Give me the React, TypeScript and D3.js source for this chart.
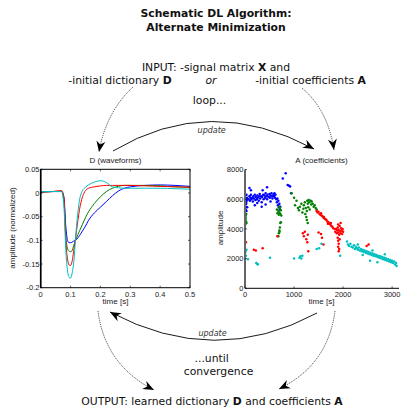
import * as d3 from 'd3';

// waveforms (D): time samples [s] and one amplitude list per atom
const wfTime = [0, 0.04, 0.07, 0.078, 0.084, 0.09, 0.095, 0.1, 0.105, 0.11, 0.12, 0.13, 0.14, 0.15, 0.16, 0.18, 0.2, 0.22, 0.24, 0.26, 0.28, 0.3, 0.35, 0.4, 0.45, 0.5];
const wfBlue = [0.002, 0.003, 0.003, -0.01, -0.07, -0.1, -0.105, -0.105, -0.104, -0.102, -0.098, -0.09, -0.08, -0.07, -0.058, -0.042, -0.03, -0.018, -0.006, 0.004, 0.01, 0.013, 0.016, 0.017, 0.016, 0.014];
const wfGreen = [0.002, 0.003, 0.004, -0.02, -0.09, -0.118, -0.123, -0.124, -0.122, -0.112, -0.095, -0.08, -0.066, -0.052, -0.04, -0.022, -0.008, 0.003, 0.01, 0.014, 0.016, 0.016, 0.016, 0.015, 0.013, 0.012];
const wfRed = [0.002, 0.003, 0.005, -0.01, -0.1, -0.14, -0.152, -0.153, -0.145, -0.125, -0.08, -0.035, -0.008, 0.005, 0.01, 0.013, 0.015, 0.016, 0.016, 0.016, 0.016, 0.016, 0.015, 0.014, 0.013, 0.012];
const wfCyan = [0.003, 0.003, 0.003, -0.03, -0.12, -0.165, -0.178, -0.18, -0.17, -0.15, -0.07, -0.015, 0.005, 0.012, 0.017, 0.023, 0.026, 0.022, 0.013, 0.011, 0.01, 0.01, 0.01, 0.01, 0.009, 0.008];

// coefficients (A): [time s, amplitude]
const coefBlue = [
  [10, 5000], [15, 5300], [20, 5500], [25, 5700], [30, 5200], [35, 5900], [40, 6100], [20, 5800], [45, 5450], [50, 6000], [30, 6300],
  [70, 6000], [90, 6200], [100, 5900], [110, 6100], [120, 6300], [130, 6000], [150, 6100], [160, 5850], [170, 6200], [180, 6050],
  [200, 6300], [210, 5950], [220, 6150], [240, 6000], [250, 6250], [260, 6100], [280, 5900], [290, 6200], [300, 6350], [310, 6050],
  [330, 6200], [340, 5800], [350, 6150], [370, 6300], [380, 6000], [400, 6250], [410, 6100], [420, 6400], [440, 6200], [450, 6000],
  [460, 6300], [480, 6150], [500, 6350], [510, 6100], [520, 6250], [540, 6400], [550, 6200], [560, 6050], [580, 6300], [590, 6200],
  [600, 6400], [610, 6100], [620, 6300], [640, 6000],
  [90, 6750], [120, 6600], [450, 6800], [360, 6600], [200, 5600], [250, 5750], [340, 5500], [420, 5650], [520, 5850],
  [650, 5800], [660, 6050], [670, 5600], [680, 5900], [690, 5450], [700, 5700], [710, 5300], [720, 5500],
  [770, 7400], [830, 7750], [870, 6950], [900, 6900], [920, 6850], [940, 6400],
];
const coefGreen = [
  [5, 4300], [10, 4600], [15, 4900], [20, 4500], [25, 5000], [15, 4750], [30, 4400],
  [650, 5300], [660, 5050], [680, 5200], [690, 4950], [700, 5100], [710, 5400], [720, 5000], [730, 5250], [740, 4900], [700, 5500],
  [720, 4400], [710, 4100], [700, 3900], [690, 3700], [680, 3500], [705, 3800], [730, 4450],
  [950, 6400], [1000, 6100], [1020, 5600], [1050, 5900], [1080, 5400], [1100, 5250], [1120, 5500], [1150, 5700], [1170, 5100],
  [1190, 5350], [1200, 5600], [1220, 5800], [1240, 5400], [1260, 5200], [1270, 5900], [1280, 5700], [1290, 5450], [1300, 5950],
  [1310, 5800], [1320, 5300], [1340, 5900], [1350, 5650], [1360, 5850], [1380, 5700], [1400, 5500], [1420, 5600], [1440, 5400],
  [1460, 5300], [1230, 5000], [1250, 4800], [1260, 4600], [1280, 4400],
];
const coefRed = [
  [1460, 5200], [1480, 5100], [1500, 5150], [1520, 5000], [1540, 4950], [1560, 4900], [1580, 4850], [1600, 4750], [1620, 4700],
  [1640, 4650], [1660, 4600], [1680, 4500], [1700, 4450], [1720, 4350], [1740, 4300], [1760, 4200], [1780, 4150], [1800, 4050],
  [1830, 4000], [1550, 5050], [1610, 4800], [1690, 4350], [1750, 4400],
  [1840, 3800], [1860, 4000], [1870, 3700], [1880, 3900], [1890, 4100], [1900, 3750], [1910, 3950], [1920, 3600], [1930, 4200],
  [1940, 3850], [1950, 3700], [1960, 4050], [1970, 3900], [1980, 3650], [1990, 4000], [2000, 3800], [1900, 4300], [1950, 4400],
  [1890, 3400], [1900, 3200], [1910, 3000], [1900, 2800], [1920, 2650], [1910, 2500], [1930, 3300],
  [1180, 3700], [1200, 3500], [1220, 3800], [1250, 3300], [1270, 3100], [1280, 3600], [1290, 2500], [1500, 3750], [1550, 3650],
  [1570, 3400], [1600, 2950],
  [20, 3100], [180, 2600], [220, 2550], [360, 2700], [660, 3500], [2480, 2850], [2520, 2950],
];
const coefCyan = [
  [10, 2450], [20, 2200], [30, 2600], [60, 1950], [230, 1700], [260, 1600], [250, 1650], [510, 2050], [1000, 2000], [1110, 2050],
  [1130, 2150], [1150, 2000], [1170, 2200], [1460, 2650], [1510, 2700], [1560, 3000], [1940, 2200],
  [2080, 3150], [2100, 2950], [2120, 2850], [2150, 3000], [2170, 2800], [2200, 2750], [2220, 2900], [2240, 2650], [2260, 2800],
  [2280, 2700], [2300, 2600], [2320, 2750], [2340, 2550], [2360, 2650], [2380, 2500], [2400, 2600], [2420, 2450], [2440, 2550],
  [2460, 2400], [2480, 2500], [2500, 2350], [2520, 2450], [2540, 2300], [2560, 2400], [2580, 2250], [2600, 2350], [2620, 2200],
  [2640, 2300], [2660, 2150], [2680, 2250], [2700, 2100], [2720, 2200], [2740, 2050], [2760, 2150], [2780, 2000], [2800, 2100],
  [2820, 1950], [2840, 2050], [2860, 1900], [2880, 2000], [2900, 1850], [2920, 1950], [2940, 1800], [2960, 1900], [2980, 1750],
  [3000, 1850], [3020, 1700], [3040, 1800], [3060, 1600], [3080, 1700], [3090, 1500], [2700, 1750], [2550, 1850], [2400, 2250],
  [2600, 2550], [2850, 2300], [2300, 2950],
];

const dTicksX = [0, 0.1, 0.2, 0.3, 0.4, 0.5];
const dTicksY = [0.05, 0, -0.05, -0.1, -0.15, -0.2];
const aTicksX = [0, 1000, 2000, 3000];
const aTicksY = [0, 2000, 4000, 6000, 8000];

const BLUE = '#0000ff';
const GREEN = '#008000';
const RED = '#ff0000';
const CYAN = '#00bfbf';

const TEXT = 'DejaVu Sans, sans-serif';
const AX = 'Liberation Sans, Arial, sans-serif';

function Arrow({ p0, c, p1, dotted }) {
  const path = d3.path();
  path.moveTo(p0[0], p0[1]);
  path.quadraticCurveTo(c[0], c[1], p1[0], p1[1]);
  const ang = (Math.atan2(p1[1] - c[1], p1[0] - c[0]) * 180) / Math.PI;
  return (
    <g>
      <path
        d={path.toString()}
        fill="none"
        stroke="#000"
        strokeWidth={dotted ? 0.7 : 0.9}
        strokeDasharray={dotted ? '1.2 1' : undefined}
      />
      <path
        d="M0,0 L-11,-4.5 L-7.5,0 L-11,4.5 Z"
        fill="#000"
        transform={`translate(${p1[0]},${p1[1]}) rotate(${ang})`}
      />
    </g>
  );
}

function DPlot() {
  const x = d3.scaleLinear().domain([0, 0.5]).range([40.7, 190]);
  const y = d3.scaleLinear().domain([-0.2, 0.05]).range([287.7, 169.3]);
  const line = d3
    .line<number>()
    .x((_, i) => x(wfTime[i]))
    .y((v) => y(v))
    .curve(d3.curveMonotoneX);
  const series = [
    { color: BLUE, values: wfBlue },
    { color: GREEN, values: wfGreen },
    { color: RED, values: wfRed },
    { color: CYAN, values: wfCyan },
  ];
  const [x0, x1] = x.range();
  const [y0, y1] = y.range();
  return (
    <g>
      {series.map((s) => (
        <path key={s.color} d={line(s.values)} fill="none" stroke={s.color} strokeWidth={1} />
      ))}
      <rect x={x0} y={y1} width={x1 - x0} height={y0 - y1} fill="none" stroke="#000" strokeWidth={1} />
      <line x1={x0} x2={x0} y1={y1} y2={y0} stroke="#000" strokeWidth={1.6} />
      {dTicksX.map((t) => (
        <g key={t}>
          <line x1={x(t)} x2={x(t)} y1={y0} y2={y0 - 2} stroke="#000" strokeWidth={0.6} />
          <line x1={x(t)} x2={x(t)} y1={y1} y2={y1 + 2} stroke="#000" strokeWidth={0.6} />
          <text x={x(t)} y={296.5} textAnchor="middle" fontSize={7.5} fontFamily={AX} fill="#222">
            {String(t)}
          </text>
        </g>
      ))}
      {dTicksY.map((t) => (
        <g key={t}>
          <line x1={x0} x2={x0 + 2} y1={y(t)} y2={y(t)} stroke="#000" strokeWidth={0.6} />
          <line x1={x1} x2={x1 - 2} y1={y(t)} y2={y(t)} stroke="#000" strokeWidth={0.6} />
          <text x={39.5} y={y(t) + 2.6} textAnchor="end" fontSize={7.5} fontFamily={AX} fill="#222">
            {String(t)}
          </text>
        </g>
      ))}
      <text x={115.5} y={163} textAnchor="middle" fontSize={8} fontFamily={AX} fill="#222">
        D (waveforms)
      </text>
      <text x={115.5} y={304} textAnchor="middle" fontSize={8} fontFamily={AX} fill="#222">
        time [s]
      </text>
      <text transform="translate(15,228) rotate(-90)" textAnchor="middle" fontSize={8} fontFamily={AX} fill="#222">
        amplitude (normalized)
      </text>
    </g>
  );
}

function APlot() {
  const x = d3.scaleLinear().domain([0, 3140]).range([245, 399]);
  const y = d3.scaleLinear().domain([0, 8000]).range([288.3, 169.5]);
  const series = [
    { color: BLUE, pts: coefBlue },
    { color: GREEN, pts: coefGreen },
    { color: RED, pts: coefRed },
    { color: CYAN, pts: coefCyan },
  ];
  const [x0, x1] = x.range();
  const [y0, y1] = y.range();
  return (
    <g>
      {series.map((s) => (
        <g key={s.color} fill={s.color}>
          {s.pts.map((p, i) => (
            <circle key={i} cx={x(p[0])} cy={y(p[1])} r={1.25} />
          ))}
        </g>
      ))}
      <line x1={x0} x2={x1} y1={y0} y2={y0} stroke="#000" strokeWidth={1} />
      <line x1={x0} x2={x0} y1={y1} y2={y0} stroke="#666" strokeWidth={2} />
      {aTicksX.map((t) => (
        <g key={t}>
          <line x1={x(t)} x2={x(t)} y1={y0} y2={y0 - 2} stroke="#000" strokeWidth={0.6} />
          <text x={x(t)} y={297} textAnchor="middle" fontSize={7.5} fontFamily={AX} fill="#222">
            {String(t)}
          </text>
        </g>
      ))}
      {aTicksY.map((t) => (
        <g key={t}>
          <line x1={x0} x2={x0 + 2} y1={y(t)} y2={y(t)} stroke="#000" strokeWidth={0.6} />
          <text x={243.5} y={y(t) + 2.6} textAnchor="end" fontSize={7.5} fontFamily={AX} fill="#222">
            {String(t)}
          </text>
        </g>
      ))}
      <text x={321.5} y={163} textAnchor="middle" fontSize={8} fontFamily={AX} fill="#222">
        A (coefficients)
      </text>
      <text x={321.5} y={304} textAnchor="middle" fontSize={8} fontFamily={AX} fill="#222">
        time [s]
      </text>
      <text transform="translate(223,228) rotate(-90)" textAnchor="middle" fontSize={8} fontFamily={AX} fill="#222">
        amplitude
      </text>
    </g>
  );
}

export default function App() {
  return (
    <svg
      width={401}
      height={410}
      style={{ position: 'absolute', left: 0, top: 0, background: '#fff' }}
    >
      <g fontFamily={TEXT} fontSize={10.8} fill="#111">
        <text x={216} y={16.5} textAnchor="middle" fontWeight="bold">Schematic DL Algorithm:</text>
        <text x={216} y={30.5} textAnchor="middle" fontWeight="bold">Alternate Minimization</text>
        <text x={216} y={71} textAnchor="middle">
          INPUT: -signal matrix <tspan fontWeight="bold">X</tspan> and
        </text>
        <text x={120} y={84.3} textAnchor="middle">
          -initial dictionary <tspan fontWeight="bold">D</tspan>
        </text>
        <text x={211} y={84.3} textAnchor="middle" fontStyle="italic">or</text>
        <text x={310.5} y={84.3} textAnchor="middle">
          -initial coefficients <tspan fontWeight="bold">A</tspan>
        </text>
        <text x={209.5} y={104} textAnchor="middle">loop...</text>
        <text x={211.7} y={133} textAnchor="middle" fontStyle="italic" fontSize={8} fill="#333">update</text>
        <text x={212.5} y={336} textAnchor="middle" fontStyle="italic" fontSize={8} fill="#333">update</text>
        <text x={211.7} y={361.5} textAnchor="middle">...until</text>
        <text x={218.5} y={375} textAnchor="middle">convergence</text>
        <text x={212} y={404.5} textAnchor="middle">
          OUTPUT: learned dictionary <tspan fontWeight="bold">D</tspan> and coefficients <tspan fontWeight="bold">A</tspan>
        </text>
      </g>

      <Arrow p0={[133, 87]} c={[106, 112]} p1={[99, 152]} dotted />
      <Arrow p0={[302, 88]} c={[328, 110]} p1={[334, 150]} dotted />
      <Arrow p0={[113, 151]} c={[210, 93]} p1={[314, 149]} />
      <Arrow p0={[317, 313]} c={[215, 368]} p1={[110, 312]} />
      <Arrow p0={[98, 311]} c={[105, 365]} p1={[154, 390]} dotted />
      <Arrow p0={[335, 311]} c={[328, 365]} p1={[279, 389]} dotted />

      <DPlot />
      <APlot />
    </svg>
  );
}
